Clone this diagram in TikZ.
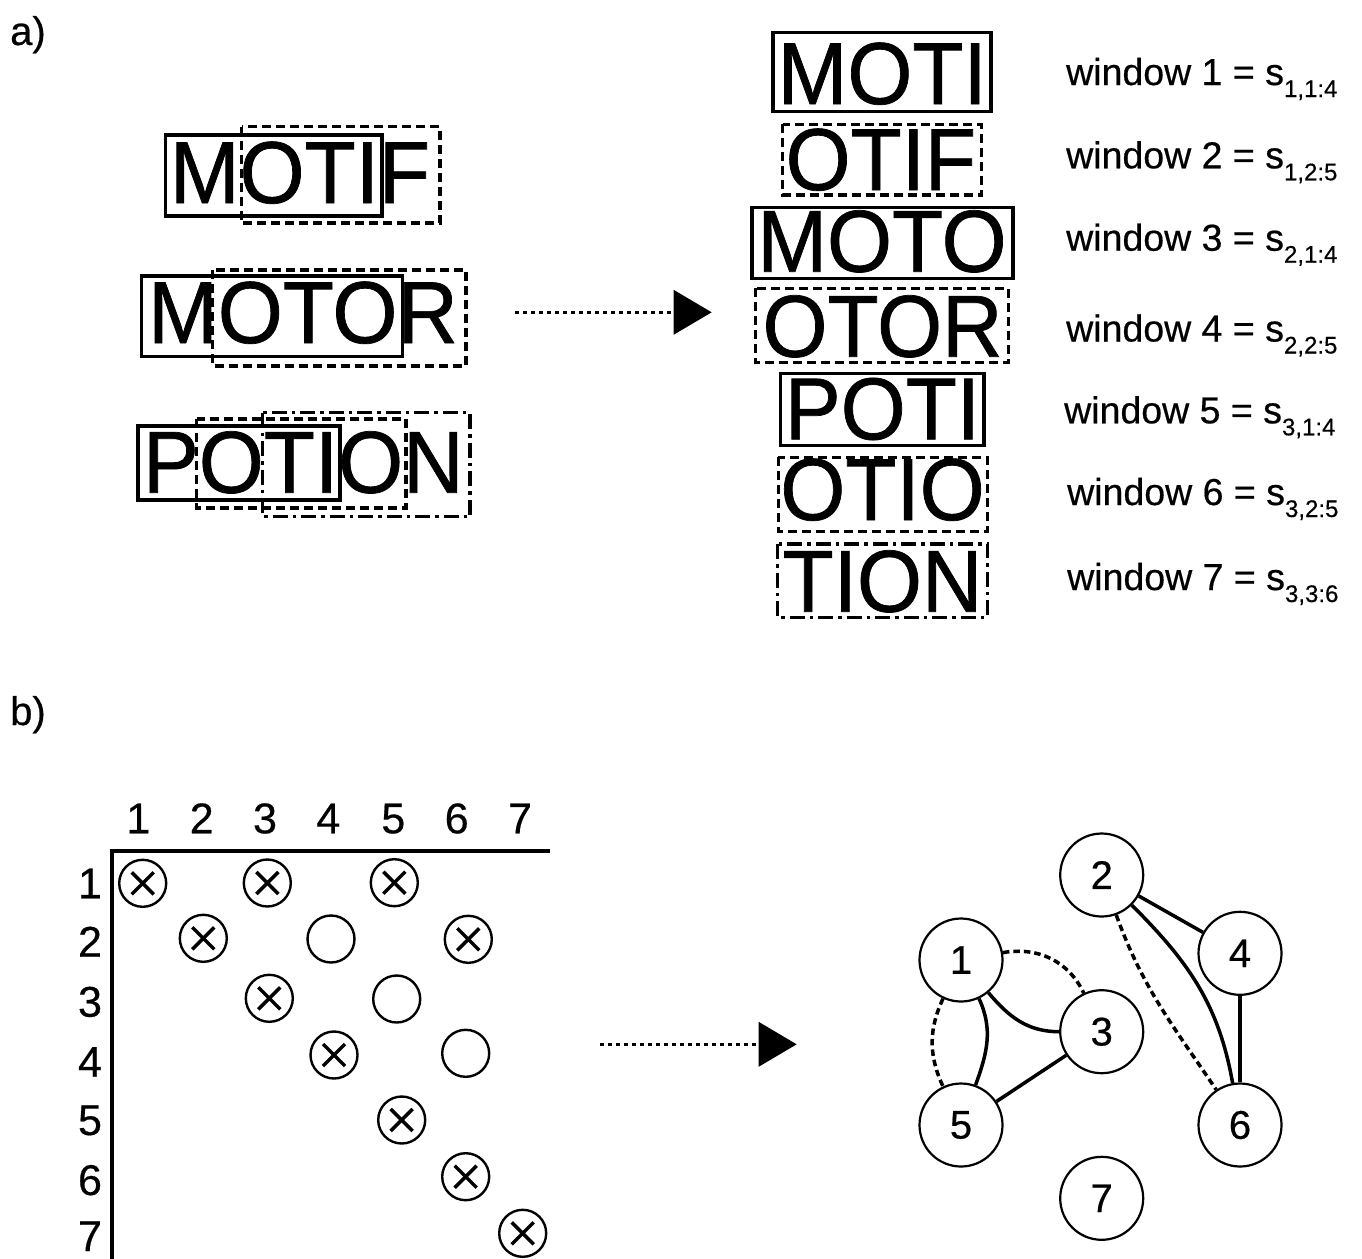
\documentclass[tikz,border=0pt]{standalone}
\usepackage{fontspec}
\setmainfont{Liberation Sans}[FakeBold=0.5]
\newfontfamily\bigwordfont[FakeStretch=0.95,FakeBold=0.8]{Liberation Sans}
\usetikzlibrary{arrows.meta}
\newcommand{\winsub}[1]{\raisebox{-12pt}{\fontsize{24}{24}\selectfont #1}}
\begin{document}
\begin{tikzpicture}[x=1pt,y=-1pt,
  word/.style={inner sep=0pt, anchor=base, font=\bigwordfont\fontsize{88}{88}\selectfont},
  solidbox/.style={draw, line width=3.5pt},
  dashbox/.style={draw, line width=3.5pt, dash pattern=on 9pt off 5pt},
  dashdotbox/.style={draw, line width=3.5pt, dash pattern=on 15pt off 5pt on 3.5pt off 5pt},
  lbl/.style={anchor=base west, inner sep=0pt, font=\fontsize{37.5}{40}\selectfont},
  panel/.style={anchor=base west, inner sep=0pt, font=\fontsize{40}{44}\selectfont},
  dotarrow/.style={line width=3.5pt, dash pattern=on 4pt off 4pt, -{Triangle[length=38pt,width=44pt]}},
  idx/.style={anchor=base, inner sep=0pt, font=\fontsize{43}{43}\selectfont},
  ocirc/.style={circle, draw, line width=2.4pt, minimum size=47pt, inner sep=0pt},
  xcirc/.style={ocirc, path picture={
     \draw[line width=3.5pt] ([xshift=-11pt,yshift=-11pt]path picture bounding box.center) -- ([xshift=11pt,yshift=11pt]path picture bounding box.center);
     \draw[line width=3.5pt] ([xshift=-11pt,yshift=11pt]path picture bounding box.center) -- ([xshift=11pt,yshift=-11pt]path picture bounding box.center);}},
  gnode/.style={circle, draw, line width=2.2pt, minimum size=83pt, inner sep=0pt, font=\fontsize{40}{40}\selectfont},
  gedge/.style={line width=3.5pt},
  gdash/.style={line width=3.5pt, dash pattern=on 6.5pt off 4pt}
]
\useasboundingbox (0,0) rectangle (1362,1258);

% panel labels
\node[panel] (pa) at (10,45) {a)};
\node[panel] (pb) at (10,725) {b)};

% ---------- left words ----------
\node[word] (wmotif) at (300,203) {MOTIF};
\draw[solidbox] (165.7,135) rectangle (382,216);
\draw[dashbox] (241.7,126.7) rectangle (440,223);

\node[word] (wmotor) at (303,343) {MOTOR};
\draw[solidbox] (141.7,276) rectangle (402.7,356.7);
\draw[dashbox] (212.7,270) rectangle (466,366);

\node[word] (wpotion) at (303.3,492.7) {POTION};
\draw[solidbox] (138,426) rectangle (340,500);
\draw[dashbox] (196.7,419) rectangle (406,508);
\draw[dashdotbox] (262.7,412.7) rectangle (470,516.7);

% arrow a
\coordinate (a1s) at (515,312.3);
\coordinate (a1e) at (711.7,312.3);
\draw[dotarrow] (a1s) -- (a1e);

% ---------- right column ----------
\node[word] (r1) at (882.2,104) {MOTI};
\draw[solidbox] (773,32.7) rectangle (991,111.7);
\node[word] (r2) at (880.8,190) {OTIF};
\draw[dashbox] (782.7,124.3) rectangle (981.7,195);
\node[word] (r3) at (882,271.7) {MOTO};
\draw[solidbox] (752,207.7) rectangle (1013,278.3);
\node[word] (r4) at (882.5,356.7) {OTOR};
\draw[dashbox] (755.7,288.3) rectangle (1008.3,362.7);
\node[word] (r5) at (882.5,439.3) {POTI};
\draw[solidbox] (780.7,373.3) rectangle (984,445.7);
\node[word] (r6) at (882.5,520) {OTIO};
\draw[dashbox] (778.3,457.3) rectangle (987.3,531.7);
\node[word] (r7) at (882.5,611.7) {TION};
\draw[dashdotbox] (777.7,544) rectangle (987.3,617.3);

% window labels
\node[lbl] (l1) at (1066,85) {window 1 = s\winsub{1,1:4}};
\node[lbl] (l2) at (1066,168.3) {window 2 = s\winsub{1,2:5}};
\node[lbl] (l3) at (1066,250.7) {window 3 = s\winsub{2,1:4}};
\node[lbl] (l4) at (1066,341.5) {window 4 = s\winsub{2,2:5}};
\node[lbl] (l5) at (1064,423.3) {window 5 = s\winsub{3,1:4}};
\node[lbl] (l6) at (1067,505) {window 6 = s\winsub{3,2:5}};
\node[lbl] (l7) at (1067,590) {window 7 = s\winsub{3,3:6}};

% ---------- matrix ----------
\node[idx] (c1) at (138.3,833.3) {1};
\node[idx] (c2) at (201.7,833.3) {2};
\node[idx] (c3) at (265,833.3) {3};
\node[idx] (c4) at (328.3,833.3) {4};
\node[idx] (c5) at (393.3,833.3) {5};
\node[idx] (c6) at (456.7,833.3) {6};
\node[idx] (c7) at (520,833.3) {7};

\node[idx] (q1) at (90,898.3) {1};
\node[idx] (q2) at (90,956.7) {2};
\node[idx] (q3) at (90,1016.7) {3};
\node[idx] (q4) at (90,1076.7) {4};
\node[idx] (q5) at (90,1135) {5};
\node[idx] (q6) at (90,1195) {6};
\node[idx] (q7) at (90,1251) {7};

\coordinate (axr) at (550,851);
\coordinate (axc) at (112,851);
\coordinate (axb) at (112,1260);
\draw[line width=3.5pt] (axr) -- (axc) -- (axb);

\node[xcirc] (m11) at (142.7,883.3) {};
\node[xcirc] (m13) at (267.3,883) {};
\node[xcirc] (m15) at (394.3,882.7) {};
\node[xcirc] (m22) at (203.3,938.3) {};
\node[ocirc] (m24) at (331,939) {};
\node[xcirc] (m26) at (468.3,939.3) {};
\node[xcirc] (m33) at (269.3,998.3) {};
\node[ocirc] (m35) at (396.7,999) {};
\node[xcirc] (m44) at (334,1055) {};
\node[ocirc] (m46) at (465.7,1053.3) {};
\node[xcirc] (m55) at (401.7,1120) {};
\node[xcirc] (m66) at (465.7,1176.7) {};
\node[xcirc] (m77) at (522.7,1233.3) {};

% arrow b
\coordinate (a2s) at (600,1044.3);
\coordinate (a2e) at (796.7,1044.3);
\draw[dotarrow] (a2s) -- (a2e);

% ---------- graph ----------
\node[gnode] (g1) at (961,960) {1};
\node[gnode] (g2) at (1101.7,875) {2};
\node[gnode] (g3) at (1101.7,1031.7) {3};
\node[gnode] (g4) at (1240,953.3) {4};
\node[gnode] (g5) at (961,1125) {5};
\node[gnode] (g6) at (1240,1125) {6};
\node[gnode] (g7) at (1101.7,1198.3) {7};

\draw[gedge] (g2) -- (g4);
\draw[gedge] (g4) -- (g6);
\draw[gedge] (g3) -- (g5);
\draw[gedge] (g2) to[out=-45, in=100] (g6);
\draw[gdash] (g2) to[out=-70, in=124] (g6);
\draw[gedge] (g1) to[out=-50, in=180] (g3);
\draw[gdash] (g1) to[out=10, in=115] (g3);
\draw[gedge] (g1) to[out=-65, in=70] (g5);
\draw[gdash] (g1) to[out=-115, in=115] (g5);
\end{tikzpicture}
\end{document}
